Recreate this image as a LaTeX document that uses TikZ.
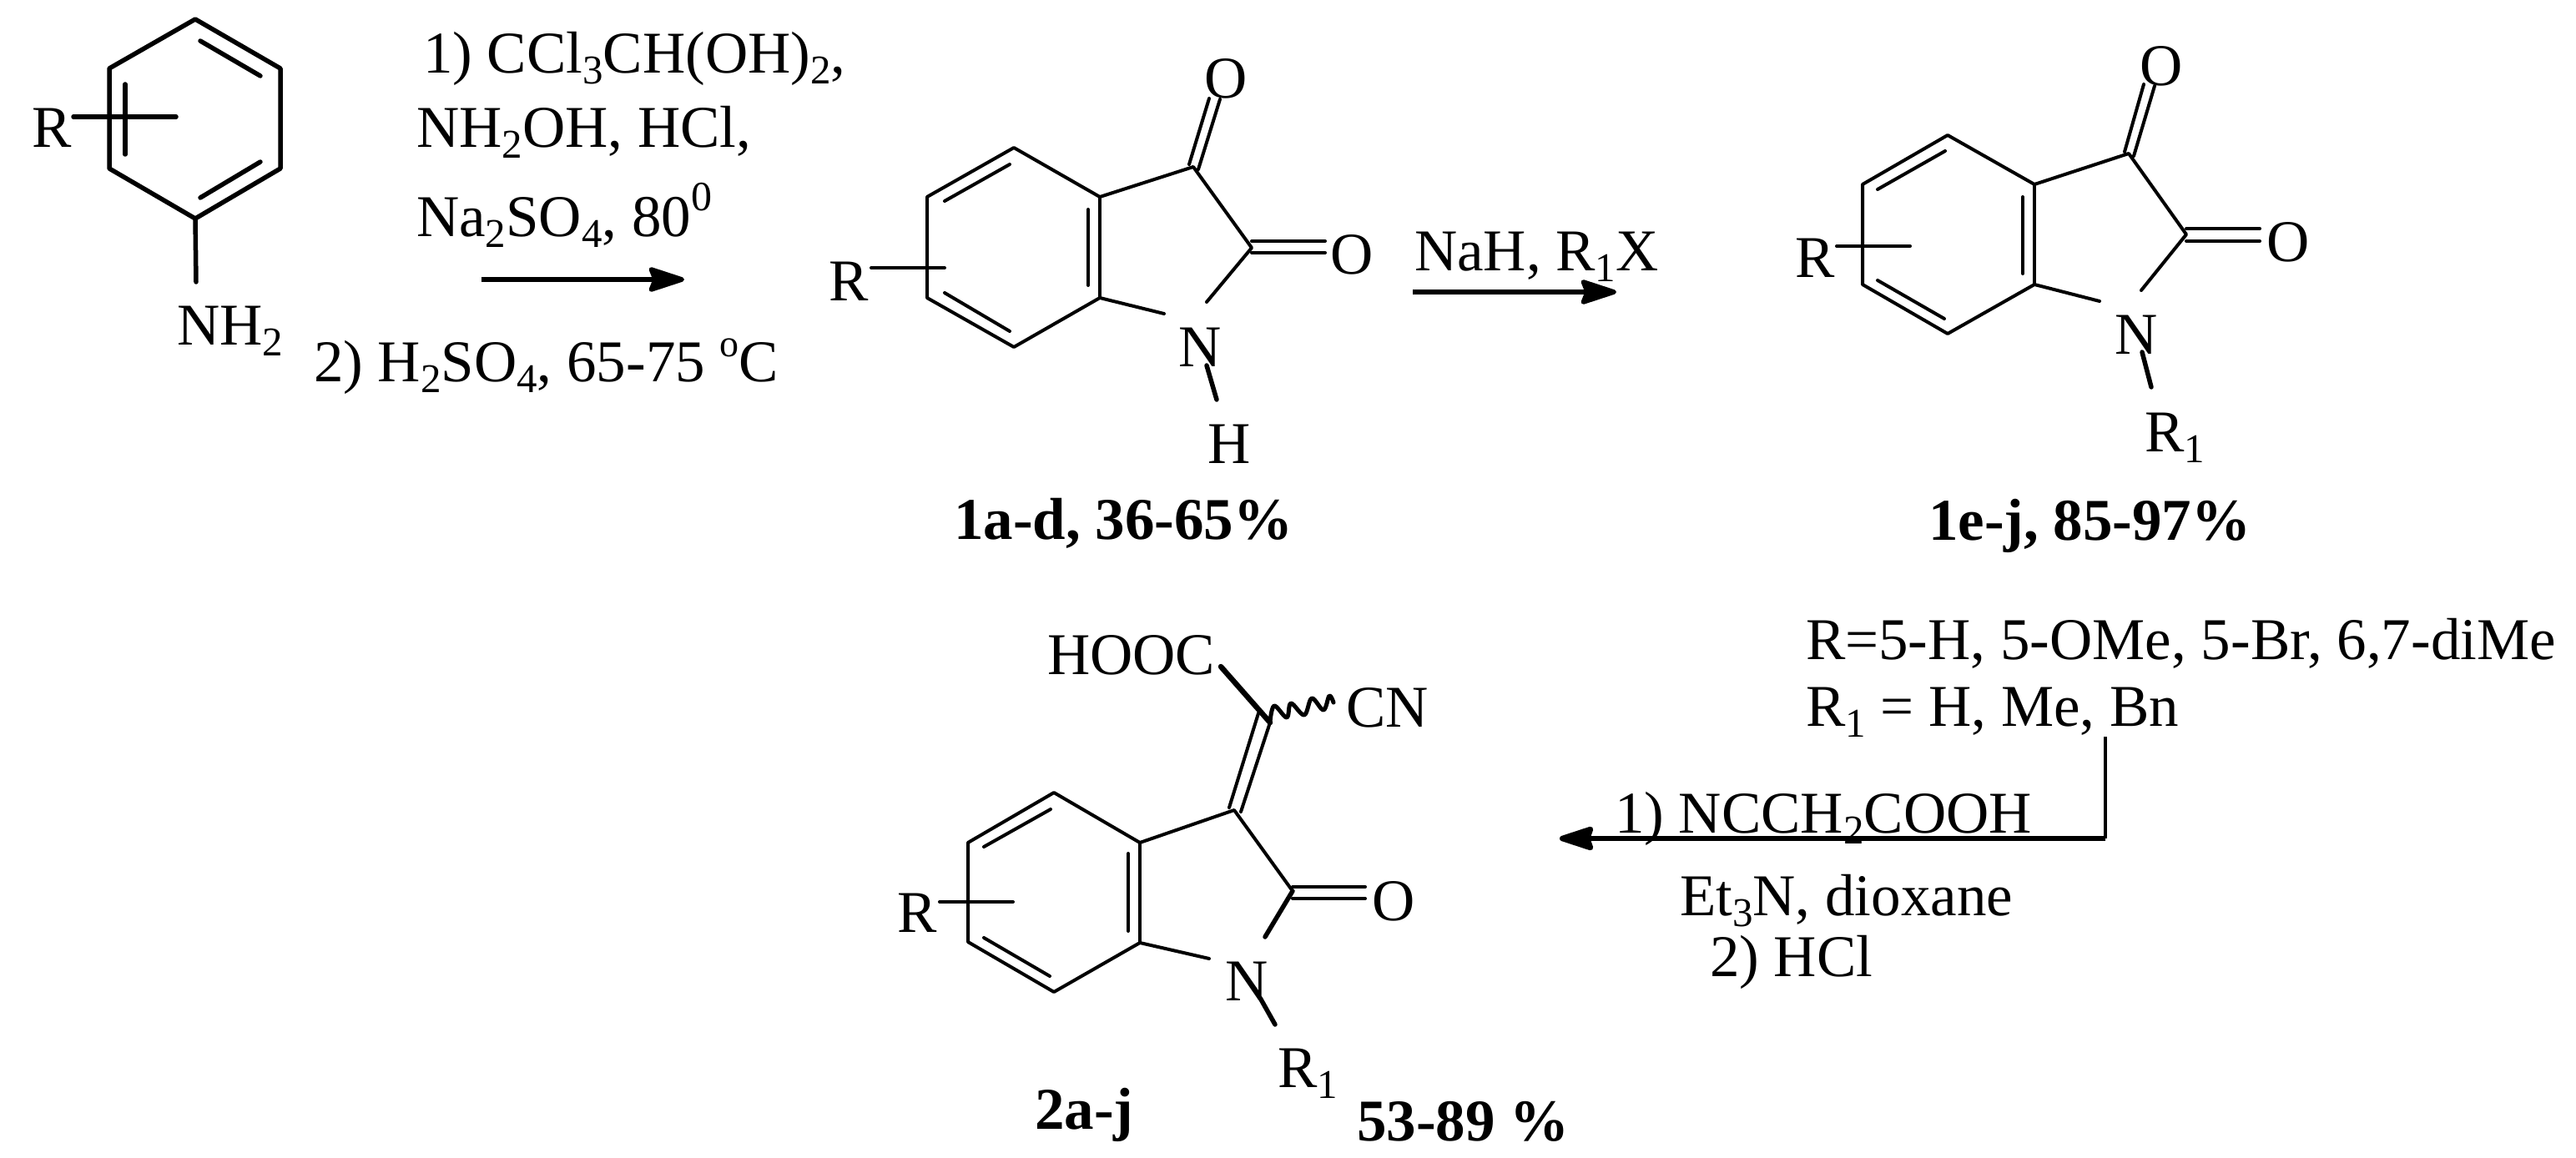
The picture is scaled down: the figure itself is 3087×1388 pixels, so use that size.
\documentclass[tikz,border=0pt]{standalone}
\usepackage{fontspec}
\setmainfont{Liberation Serif}
\usetikzlibrary{arrows.meta}
\newcommand{\lsb}[1]{\raisebox{-13pt}{\fontsize{49}{49}\selectfont #1}}
\newcommand{\lsp}[2]{\raisebox{#2}{\fontsize{#1}{#1}\selectfont 0}}
\newcommand{\lso}{\raisebox{30pt}{\fontsize{46}{46}\selectfont o}}
\tikzset{
  x=1pt,y=-1pt,
  txt/.style={inner sep=0pt,outer sep=0pt,anchor=base west,font=\fontsize{71}{71}\selectfont},
  btxt/.style={txt,font=\fontsize{71}{71}\selectfont\bfseries},
  bond/.style={line width=4pt,line cap=round,line join=round},
  hbond/.style={line width=5.5pt,line cap=round,line join=round},
  rarrow/.style={line width=5.5pt,-{Stealth[length=50pt,width=32pt,inset=6pt,round]}},
}
\begin{document}
\begin{tikzpicture}
\useasboundingbox (0,0) rectangle (3087,1388);
\fill[white] (0,0) rectangle (3087,1388);

% --- aniline
\coordinate (a1) at (234,23); \coordinate (a2) at (336,82); \coordinate (a3) at (336,202);
\coordinate (a4) at (234,262); \coordinate (a5) at (131,202); \coordinate (a6) at (131,82);
\coordinate (a1i) at (240,49); \coordinate (a2i) at (312,91);
\coordinate (a4i) at (240,237); \coordinate (a3i) at (312,194);
\coordinate (as) at (235,338);
\coordinate (arL) at (88,140); \coordinate (arR) at (211,140);
\coordinate (avT) at (150,101); \coordinate (avB) at (150,185);
\draw[hbond] (a1)--(a2)--(a3)--(a4)--(a5)--(a6)--cycle;
\draw[hbond] (a1i)--(a2i);
\draw[hbond] (a4i)--(a3i);
\draw[hbond] (a4)--(as);
\draw[hbond] (arL)--(arR);
\draw[hbond] (avT)--(avB);
\node[txt] (aR) at (38,177) {R};
\node[txt] (aNH) at (212,413) {NH\lsb{2}};

% --- first reaction conditions
\node[txt] (c1) at (507,88) {1) CCl\lsb{3}CH(OH)\lsb{2},};
\node[txt] (c2) at (499,177) {NH\lsb{2}OH, HCl,};
\node[txt] (c3) at (499,284) {Na\lsb{2}SO\lsb{4}, 80\lsp{50}{31pt}};
\node[txt] (c4) at (376,457) {2) H\lsb{2}SO\lsb{4}, 65-75 \lso C};
\coordinate (ar1s) at (577,335); \coordinate (ar1e) at (820,335);
\draw[rarrow] (ar1s)--(ar1e);

% --- 1a-d
\coordinate (b1) at (1215,177); \coordinate (b2) at (1111,236); \coordinate (b3) at (1111,357);
\coordinate (b4) at (1215,416); \coordinate (b5) at (1318,357); \coordinate (b6) at (1318,236);
\coordinate (b7) at (1430,200); \coordinate (b8) at (1500,297);
\coordinate (bn1) at (1446,362); \coordinate (bn2) at (1395,376);
\draw[bond] (bn2)--(b5)--(b4)--(b3)--(b2)--(b1)--(b6)--(b7)--(b8)--(bn1);
\draw[bond] (b5)--(b6);
\coordinate (bi1) at (1132,241); \coordinate (bi2) at (1210,197);
\coordinate (bi3) at (1132,351); \coordinate (bi4) at (1210,397);
\coordinate (bi5) at (1304,251); \coordinate (bi6) at (1304,342);
\draw[bond] (bi1)--(bi2); \draw[bond] (bi3)--(bi4); \draw[bond] (bi5)--(bi6);
\coordinate (bo1) at (1425,197); \coordinate (bo2) at (1449,118);
\coordinate (bo3) at (1436,203); \coordinate (bo4) at (1462,119);
\draw[bond] (bo1)--(bo2); \draw[bond] (bo3)--(bo4);
\coordinate (bo5) at (1500,289); \coordinate (bo6) at (1588,289);
\coordinate (bo7) at (1500,303); \coordinate (bo8) at (1588,303);
\draw[bond] (bo5)--(bo6); \draw[bond] (bo7)--(bo8);
\coordinate (brL) at (1044,321); \coordinate (brR) at (1132,321);
\draw[bond] (brL)--(brR);
\coordinate (bh1) at (1446,438); \coordinate (bh2) at (1458,479);
\draw[hbond] (bh1)--(bh2);
\node[txt] (bO1) at (1443,118) {O};
\node[txt] (bO2) at (1594,329) {O};
\node[txt] (bR) at (993,360) {R};
\node[txt] (bN) at (1412,439) {N};
\node[txt] (bH) at (1447,555) {H};
\node[btxt] (bL) at (1143,646) {1a-d, 36-65\%};

% --- second arrow
\node[txt] (c5) at (1695,325) {NaH, R\lsb{1}X};
\coordinate (ar2s) at (1693,350); \coordinate (ar2e) at (1937,350);
\draw[rarrow] (ar2s)--(ar2e);

% --- 1e-j
\coordinate (d1) at (2334,162); \coordinate (d2) at (2232,221); \coordinate (d3) at (2232,341);
\coordinate (d4) at (2334,400); \coordinate (d5) at (2438,341); \coordinate (d6) at (2438,221);
\coordinate (d7) at (2551,184); \coordinate (d8) at (2620,281);
\coordinate (dn1) at (2566,348); \coordinate (dn2) at (2516,361);
\draw[bond] (dn2)--(d5)--(d4)--(d3)--(d2)--(d1)--(d6)--(d7)--(d8)--(dn1);
\draw[bond] (d5)--(d6);
\coordinate (di1) at (2250,227); \coordinate (di2) at (2331,181);
\coordinate (di3) at (2250,336); \coordinate (di4) at (2330,382);
\coordinate (di5) at (2424,236); \coordinate (di6) at (2424,328);
\draw[bond] (di1)--(di2); \draw[bond] (di3)--(di4); \draw[bond] (di5)--(di6);
\coordinate (do1) at (2546,182); \coordinate (do2) at (2569,101);
\coordinate (do3) at (2557,187); \coordinate (do4) at (2582,103);
\draw[bond] (do1)--(do2); \draw[bond] (do3)--(do4);
\coordinate (do5) at (2620,274); \coordinate (do6) at (2708,274);
\coordinate (do7) at (2620,289); \coordinate (do8) at (2708,289);
\draw[bond] (do5)--(do6); \draw[bond] (do7)--(do8);
\coordinate (drL) at (2201,295); \coordinate (drR) at (2289,295);
\draw[bond] (drL)--(drR);
\coordinate (dh1) at (2567,422); \coordinate (dh2) at (2578,464);
\draw[hbond] (dh1)--(dh2);
\node[txt] (dO1) at (2564,103) {O};
\node[txt] (dO2) at (2716,314) {O};
\node[txt] (dR) at (2151,332) {R};
\node[txt] (dN) at (2534,424) {N};
\node[txt] (dR1) at (2570,541) {R\lsb{1}};
\node[btxt] (dL) at (2311,647) {1e-j, 85-97\%};

% --- substituents and third arrow
\node[txt] (s1) at (2164,790) {R=5-H, 5-OMe, 5-Br, 6,7-diMe};
\node[txt] (s2) at (2164,870) {R\lsb{1} = H, Me, Bn};
\coordinate (ar3a) at (2523,883); \coordinate (ar3b) at (2523,1005); \coordinate (ar3c) at (1869,1005);
\draw[line width=4.5pt] (ar3a)--(ar3b);
\node[txt] (c6) at (1935,998) {1) NCCH\lsb{2}COOH};
\draw[line width=6.5pt,-{Stealth[length=49pt,width=31pt,inset=5pt,round]}] (ar3b)--(ar3c);
\node[txt] (c7) at (2013,1097) {Et\lsb{3}N, dioxane};
\node[txt] (c8) at (2049,1170) {2) HCl};

% --- 2a-j
\coordinate (e1) at (1263,950); \coordinate (e2) at (1160,1010); \coordinate (e3) at (1160,1129);
\coordinate (e4) at (1263,1189); \coordinate (e5) at (1366,1130); \coordinate (e6) at (1366,1010);
\coordinate (e7) at (1479,971); \coordinate (e8) at (1549,1068);
\coordinate (en1) at (1516,1123); \coordinate (en2) at (1449,1149);
\draw[bond] (en2)--(e5)--(e4)--(e3)--(e2)--(e1)--(e6)--(e7)--(e8);
\draw[bond] (e5)--(e6);
\draw[hbond] (e8)--(en1);
\coordinate (ei1) at (1179,1015); \coordinate (ei2) at (1259,970);
\coordinate (ei3) at (1179,1124); \coordinate (ei4) at (1258,1170);
\coordinate (ei5) at (1352,1023); \coordinate (ei6) at (1352,1116);
\draw[bond] (ei1)--(ei2); \draw[bond] (ei3)--(ei4); \draw[bond] (ei5)--(ei6);
\coordinate (eo1) at (1473,968); \coordinate (eo2) at (1508,855);
\coordinate (eo3) at (1487,973); \coordinate (eo4) at (1522,866);
\draw[bond] (eo1)--(eo2); \draw[bond] (eo3)--(eo4);
\coordinate (eh) at (1463,799);
\draw[line width=6.5pt,line cap=round] (eh)--(eo4);
\draw[line width=5pt,line cap=round,line join=round] plot[smooth,tension=.6] coordinates {(1522,865) (1527,846) (1542,860) (1547,843) (1563,857) (1572,837) (1586,851) (1593,834) (1598,842)};
\coordinate (eo5) at (1549,1063); \coordinate (eo6) at (1636,1063);
\coordinate (eo7) at (1549,1077); \coordinate (eo8) at (1636,1077);
\draw[bond] (eo5)--(eo6); \draw[bond] (eo7)--(eo8);
\coordinate (erL) at (1126,1081); \coordinate (erR) at (1214,1081);
\draw[bond] (erL)--(erR);
\coordinate (eh1) at (1510,1196); \coordinate (eh2) at (1528,1228);
\draw[hbond] (eh1)--(eh2);
\node[txt] (eHOOC) at (1255,808) {HOOC};
\node[txt] (eCN) at (1613,871) {CN};
\node[txt] (eO) at (1644,1103) {O};
\node[txt] (eR) at (1075,1117) {R};
\node[txt] (eN) at (1468,1199) {N};
\node[txt] (eR1) at (1531,1303) {R\lsb{1}};
\node[btxt] (eL) at (1240,1353) {2a-j};
\node[btxt] (eP) at (1626,1367) {53-89 \%};
\end{tikzpicture}
\end{document}
